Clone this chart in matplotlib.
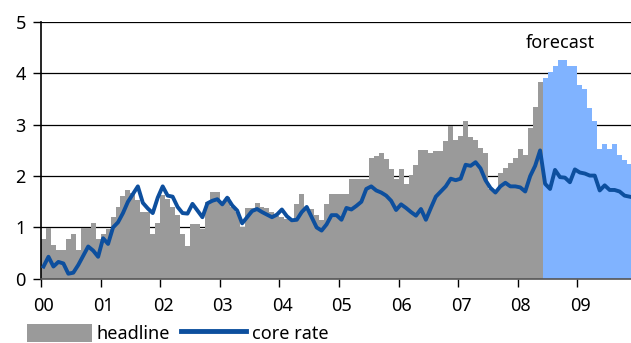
import numpy as np
import matplotlib.pyplot as plt
from matplotlib.patches import Patch
from matplotlib.lines import Line2D

plt.rcParams['font.family'] = ['Noto Sans', 'DejaVu Sans']

# monthly inflation, Jan 2000 .. Nov 2009 (%, y/y)
headline = [
    0.78, 0.99, 0.66, 0.57, 0.57, 0.77, 0.88, 0.57, 0.99, 0.99, 1.09, 0.78,
    0.88, 0.98, 1.20, 1.40, 1.61, 1.72, 1.68, 1.54, 1.30, 1.30, 0.88, 1.08,
    1.64, 1.55, 1.40, 1.25, 0.88, 0.64, 1.07, 1.07, 0.98, 1.50, 1.70, 1.70,
    1.46, 1.60, 1.40, 1.30, 1.00, 1.37, 1.37, 1.48, 1.40, 1.37, 1.30, 1.22,
    1.20, 1.17, 1.15, 1.45, 1.66, 1.38, 1.35, 1.24, 1.14, 1.45, 1.66, 1.66,
    1.66, 1.66, 1.95, 1.95, 1.95, 1.95, 2.36, 2.40, 2.45, 2.34, 2.13, 1.94,
    2.13, 1.85, 2.02, 2.21, 2.50, 2.50, 2.45, 2.49, 2.49, 2.69, 2.98, 2.70,
    2.78, 3.07, 2.77, 2.70, 2.55, 2.45, 1.75, 1.72, 2.06, 2.16, 2.25, 2.35,
    2.53, 2.42, 2.94, 3.35, 3.84, 3.90, 4.03, 4.14, 4.26, 4.26, 4.14, 4.14,
    3.77, 3.69, 3.32, 3.08, 2.53, 2.63, 2.53, 2.63, 2.42, 2.32, 2.23,
]
core = [
    0.24, 0.43, 0.24, 0.33, 0.30, 0.10, 0.12, 0.27, 0.45, 0.63, 0.55, 0.43,
    0.79, 0.68, 1.00, 1.10, 1.28, 1.50, 1.65, 1.80, 1.48, 1.37, 1.28, 1.58,
    1.80, 1.62, 1.60, 1.40, 1.28, 1.27, 1.46, 1.33, 1.20, 1.47, 1.52, 1.55,
    1.45, 1.58, 1.43, 1.33, 1.08, 1.20, 1.32, 1.36, 1.30, 1.25, 1.20, 1.25,
    1.35, 1.22, 1.14, 1.15, 1.30, 1.40, 1.20, 1.00, 0.94, 1.06, 1.24, 1.24,
    1.15, 1.38, 1.35, 1.42, 1.50, 1.75, 1.80, 1.72, 1.68, 1.62, 1.52, 1.34,
    1.45, 1.38, 1.30, 1.23, 1.36, 1.15, 1.38, 1.60, 1.70, 1.80, 1.95, 1.92,
    1.95, 2.22, 2.20, 2.27, 2.15, 1.92, 1.77, 1.68, 1.80, 1.87, 1.80, 1.80,
    1.78, 1.70, 2.00, 2.20, 2.50, 1.85, 1.75, 2.12, 1.98, 1.97, 1.88, 2.13,
    2.07, 2.05, 2.01, 2.01, 1.72, 1.82, 1.73, 1.73, 1.70, 1.62, 1.60,
]
forecast_from = 101          # Jun 2008 onwards is projection
years = ['00', '01', '02', '03', '04', '05', '06', '07', '08', '09']

grey = '#9a9a9a'
light_blue = '#80b3ff'
navy = '#0d4f9e'

months = np.arange(len(headline))
bar_colors = [grey if m < forecast_from else light_blue for m in months]

fig = plt.figure(figsize=(6.31, 3.43), dpi=100)
ax = fig.add_axes([0.065, 0.187, 0.935, 0.749])

ax.bar(months, headline, width=1.0, align='edge', color=bar_colors,
       linewidth=0, zorder=2)
ax.plot(months + 0.5, core, color=navy, linewidth=2.8,
        solid_joinstyle='round', zorder=3)

ax.set_xlim(0, 118.8)
ax.set_ylim(0, 5)
ax.set_yticks(range(6))
ax.yaxis.grid(True, color='black', linewidth=0.9, zorder=0)
ax.set_axisbelow(True)

ax.set_xticks(np.arange(len(years)) * 12)
ax.set_xticklabels([])
ax.set_xticks(np.arange(len(years)) * 12 + 0.6, minor=True)
ax.set_xticklabels(years, minor=True)
ax.tick_params(axis='x', which='major', length=6, width=1, direction='out')
ax.tick_params(axis='x', which='minor', length=0, pad=13, labelsize=13)
ax.tick_params(axis='y', length=6, width=1, direction='out', pad=5,
               labelsize=13)

for side in ['top', 'right']:
    ax.spines[side].set_visible(False)
ax.spines['left'].set_linewidth(1.2)
ax.spines['bottom'].set_color('#555555')
ax.spines['bottom'].set_linewidth(1.2)

ax.text(0.88, 0.955, 'forecast', transform=ax.transAxes, ha='center',
        va='top', fontsize=13)

handles = [Patch(facecolor=grey, edgecolor='none', label='headline'),
           Line2D([], [], color=navy, linewidth=3.5, label='core rate')]
fig.legend(handles=handles, loc='lower left', bbox_to_anchor=(0.042, 0.0),
           ncol=2, frameon=False, fontsize=13, handlelength=3.6,
           handleheight=1.2, handletextpad=0.3, columnspacing=0.6,
           borderpad=0.0, borderaxespad=0)

fig.savefig('out.png', dpi=100)
